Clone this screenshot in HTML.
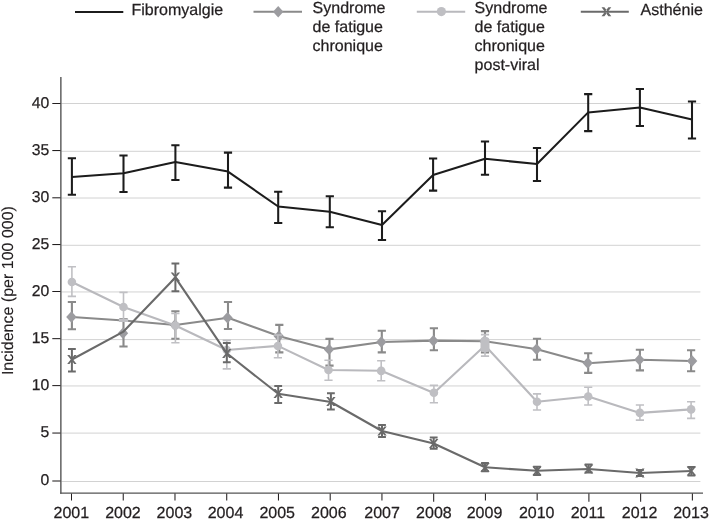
<!DOCTYPE html>
<html lang="fr">
<head>
<meta charset="utf-8">
<title>Incidence (per 100 000)</title>
<style>
html,body{margin:0;padding:0;background:#fff;}
body{width:710px;height:520px;overflow:hidden;}
svg{display:block;}
text{font-family:"Liberation Sans",sans-serif;fill:#231f20;stroke:#231f20;stroke-width:0.25px;text-rendering:geometricPrecision;}
.t{font-size:15.75px;}
.yl{font-size:16px;}
.ya{font-size:16px;stroke-width:0.1px;}
.l{font-size:16px;}
</style>
</head>
<body>
<svg width="710" height="520" viewBox="0 0 710 520">
<rect width="710" height="520" fill="#fff"/>
<g stroke="#d2d2d2" stroke-width="1" fill="none">
<path d="M61.4 481.5H700.4"/>
<path d="M61.4 433.1H700.4"/>
<path d="M61.4 385.95H700.4"/>
<path d="M61.4 339.6H700.4"/>
<path d="M61.4 291.95H700.4"/>
<path d="M61.4 245.3H700.4"/>
<path d="M61.4 198.0H700.4"/>
<path d="M61.4 151.3H700.4"/>
<path d="M61.4 103.5H700.4"/>
</g>
<g stroke="#555555" stroke-width="1.4" fill="none">
<path d="M60.87 77V493.85"/>
<path d="M60.17 493.15H703"/>
</g>
<g stroke="#231f20" stroke-width="1.05" fill="none">
<path d="M52.3 481.0H60.5"/>
<path d="M52.3 433.05H60.5"/>
<path d="M52.3 385.6H60.5"/>
<path d="M52.3 338.65H60.5"/>
<path d="M52.3 291.5H60.5"/>
<path d="M52.3 244.55H60.5"/>
<path d="M52.3 197.8H60.5"/>
<path d="M52.3 150.55H60.5"/>
<path d="M52.3 103.5H60.5"/>
<path d="M71.50 493.6V500.5"/>
<path d="M123.24 493.6V500.5"/>
<path d="M174.98 493.6V500.5"/>
<path d="M226.72 493.6V500.5"/>
<path d="M278.46 493.6V500.5"/>
<path d="M330.20 493.6V500.5"/>
<path d="M381.94 493.6V500.5"/>
<path d="M433.68 493.6V501.8"/>
<path d="M485.42 493.6V500.5"/>
<path d="M537.16 493.6V500.5"/>
<path d="M588.90 493.6V501.8"/>
<path d="M640.64 493.6V501.8"/>
<path d="M692.38 493.6V500.5"/>
</g>
<g class="t" text-anchor="end">
<text x="49.3" y="485.20">0</text>
<text x="49.3" y="437.25">5</text>
<text x="49.3" y="389.80">10</text>
<text x="49.3" y="342.85">15</text>
<text x="49.3" y="295.70">20</text>
<text x="49.3" y="248.75">25</text>
<text x="49.3" y="202.00">30</text>
<text x="49.3" y="154.75">35</text>
<text x="49.3" y="107.70">40</text>
</g>
<g class="yl" text-anchor="middle">
<text x="71.35" y="517.5">2001</text>
<text x="122.95" y="517.5">2002</text>
<text x="174.40" y="517.5">2003</text>
<text x="225.50" y="517.5">2004</text>
<text x="277.20" y="517.5">2005</text>
<text x="328.80" y="517.5">2006</text>
<text x="382.10" y="517.5">2007</text>
<text x="433.90" y="517.5">2008</text>
<text x="484.50" y="517.5">2009</text>
<text x="536.70" y="517.5">2010</text>
<text x="587.90" y="517.5">2011</text>
<text x="639.60" y="517.5">2012</text>
<text x="691.00" y="517.5">2013</text>
</g>
<text class="ya" text-anchor="middle" transform="translate(13.1 290.6) rotate(-90)">Incidence (per 100 000)</text>
<polyline points="71.9,177 123.5,173.2 175.4,161.9 228.0,171.6 278.2,206.5 329.8,211.8 382.0,225 433.1,175 485.0,158.8 537.0,164 588.2,112.4 639.9,107.4 692.0,119.6" fill="none" stroke="#1c1c1c" stroke-width="2.05" stroke-linejoin="round"/>
<path d="M71.9 158.2V194.7M67.80 158.2H76.00M67.80 194.7H76.00" fill="none" stroke="#1c1c1c" stroke-width="2.05"/>
<path d="M123.5 155.4V192M119.40 155.4H127.60M119.40 192H127.60" fill="none" stroke="#1c1c1c" stroke-width="2.05"/>
<path d="M175.4 145.2V180M171.30 145.2H179.50M171.30 180H179.50" fill="none" stroke="#1c1c1c" stroke-width="2.05"/>
<path d="M228.0 152.6V187.6M223.90 152.6H232.10M223.90 187.6H232.10" fill="none" stroke="#1c1c1c" stroke-width="2.05"/>
<path d="M278.2 191.8V223M274.10 191.8H282.30M274.10 223H282.30" fill="none" stroke="#1c1c1c" stroke-width="2.05"/>
<path d="M329.8 196.3V227.3M325.70 196.3H333.90M325.70 227.3H333.90" fill="none" stroke="#1c1c1c" stroke-width="2.05"/>
<path d="M382.0 211.2V240M377.90 211.2H386.10M377.90 240H386.10" fill="none" stroke="#1c1c1c" stroke-width="2.05"/>
<path d="M433.1 158.5V190.6M429.00 158.5H437.20M429.00 190.6H437.20" fill="none" stroke="#1c1c1c" stroke-width="2.05"/>
<path d="M485.0 141.5V174.8M480.90 141.5H489.10M480.90 174.8H489.10" fill="none" stroke="#1c1c1c" stroke-width="2.05"/>
<path d="M537.0 148V181M532.90 148H541.10M532.90 181H541.10" fill="none" stroke="#1c1c1c" stroke-width="2.05"/>
<path d="M588.2 94.1V131.1M584.10 94.1H592.30M584.10 131.1H592.30" fill="none" stroke="#1c1c1c" stroke-width="2.05"/>
<path d="M639.9 89V126M635.80 89H644.00M635.80 126H644.00" fill="none" stroke="#1c1c1c" stroke-width="2.05"/>
<path d="M692.0 101.4V138.4M687.90 101.4H696.10M687.90 138.4H696.10" fill="none" stroke="#1c1c1c" stroke-width="2.05"/>
<polyline points="71.9,317 123.5,320.5 175.4,325 228.0,317.8 279.3,336.3 329.5,349.4 381.8,342 433.9,340.6 485.0,341.2 537.0,349.2 588.2,363.3 639.9,359.8 691.1,361" fill="none" stroke="#8a8a8a" stroke-width="2.1" stroke-linejoin="round"/>
<path d="M71.9 302V329.3M67.80 302H76.00M67.80 329.3H76.00" fill="none" stroke="#8a8a8a" stroke-width="2.1"/>
<path d="M123.5 319V346.5M119.40 319H127.60M119.40 346.5H127.60" fill="none" stroke="#8a8a8a" stroke-width="2.1"/>
<path d="M175.4 311.3V338.7M171.30 311.3H179.50M171.30 338.7H179.50" fill="none" stroke="#8a8a8a" stroke-width="2.1"/>
<path d="M228.0 302V329M223.90 302H232.10M223.90 329H232.10" fill="none" stroke="#8a8a8a" stroke-width="2.1"/>
<path d="M279.3 324.9V352.4M275.20 324.9H283.40M275.20 352.4H283.40" fill="none" stroke="#8a8a8a" stroke-width="2.1"/>
<path d="M329.5 338.85V365.6M325.40 338.85H333.60M325.40 365.6H333.60" fill="none" stroke="#8a8a8a" stroke-width="2.1"/>
<path d="M381.8 330.8V352.4M377.70 330.8H385.90M377.70 352.4H385.90" fill="none" stroke="#8a8a8a" stroke-width="2.1"/>
<path d="M433.9 328.3V350.3M429.80 328.3H438.00M429.80 350.3H438.00" fill="none" stroke="#8a8a8a" stroke-width="2.1"/>
<path d="M485.0 331.1V352.4M480.90 331.1H489.10M480.90 352.4H489.10" fill="none" stroke="#8a8a8a" stroke-width="2.1"/>
<path d="M537.0 338.7V359.8M532.90 338.7H541.10M532.90 359.8H541.10" fill="none" stroke="#8a8a8a" stroke-width="2.1"/>
<path d="M588.2 353.3V372.9M584.10 353.3H592.30M584.10 372.9H592.30" fill="none" stroke="#8a8a8a" stroke-width="2.1"/>
<path d="M639.9 349.8V370.4M635.80 349.8H644.00M635.80 370.4H644.00" fill="none" stroke="#8a8a8a" stroke-width="2.1"/>
<path d="M691.1 350.2V371.3M687.00 350.2H695.20M687.00 371.3H695.20" fill="none" stroke="#8a8a8a" stroke-width="2.1"/>
<path d="M71.4 311.30L76.60 317L71.4 322.70L66.20 317Z" fill="#9c9ca0"/>
<path d="M123.0 327.50L128.20 333.2L123.0 338.90L117.80 333.2Z" fill="#9c9ca0"/>
<path d="M174.9 319.30L180.10 325L174.9 330.70L169.70 325Z" fill="#9c9ca0"/>
<path d="M227.5 312.10L232.70 317.8L227.5 323.50L222.30 317.8Z" fill="#9c9ca0"/>
<path d="M278.8 330.60L284.00 336.3L278.8 342.00L273.60 336.3Z" fill="#9c9ca0"/>
<path d="M329.0 343.70L334.20 349.4L329.0 355.10L323.80 349.4Z" fill="#9c9ca0"/>
<path d="M381.3 336.30L386.50 342L381.3 347.70L376.10 342Z" fill="#9c9ca0"/>
<path d="M433.4 335.10L438.60 340.8L433.4 346.50L428.20 340.8Z" fill="#9c9ca0"/>
<path d="M484.5 335.50L489.70 341.2L484.5 346.90L479.30 341.2Z" fill="#9c9ca0"/>
<path d="M536.5 343.50L541.70 349.2L536.5 354.90L531.30 349.2Z" fill="#9c9ca0"/>
<path d="M587.7 357.30L592.90 363.0L587.7 368.70L582.50 363.0Z" fill="#9c9ca0"/>
<path d="M639.4 354.10L644.60 359.8L639.4 365.50L634.20 359.8Z" fill="#9c9ca0"/>
<path d="M692.1 355.30L697.30 361L692.1 366.70L686.90 361Z" fill="#9c9ca0"/>
<polyline points="71.9,282 123.5,307 175.4,325.5 226.8,350 277.9,345.9 328.5,370 381.2,370.8 433.9,393.0 485.0,345.5 537.0,401.7 588.2,396.5 639.9,412.9 691.1,409.4" fill="none" stroke="#b9b9bd" stroke-width="2.1" stroke-linejoin="round"/>
<path d="M71.9 266.8V296.4M67.80 266.8H76.00M67.80 296.4H76.00" fill="none" stroke="#c0c0c4" stroke-width="1.6"/>
<path d="M123.5 292.4V320.3M119.40 292.4H127.60M119.40 320.3H127.60" fill="none" stroke="#c0c0c4" stroke-width="1.6"/>
<path d="M175.4 313.5V342.8M171.30 313.5H179.50M171.30 342.8H179.50" fill="none" stroke="#c0c0c4" stroke-width="1.6"/>
<path d="M226.8 340.4V368.9M222.70 340.4H230.90M222.70 368.9H230.90" fill="none" stroke="#c0c0c4" stroke-width="1.6"/>
<path d="M277.9 335V357.7M273.80 335H282.00M273.80 357.7H282.00" fill="none" stroke="#c0c0c4" stroke-width="1.6"/>
<path d="M328.5 360.2V380.2M324.40 360.2H332.60M324.40 380.2H332.60" fill="none" stroke="#c0c0c4" stroke-width="1.6"/>
<path d="M381.2 360.75V380.7M377.10 360.75H385.30M377.10 380.7H385.30" fill="none" stroke="#c0c0c4" stroke-width="1.6"/>
<path d="M433.9 385.4V402.7M429.80 385.4H438.00M429.80 402.7H438.00" fill="none" stroke="#c0c0c4" stroke-width="1.6"/>
<path d="M485.0 334.6V356.1M480.90 334.6H489.10M480.90 356.1H489.10" fill="none" stroke="#c0c0c4" stroke-width="1.6"/>
<path d="M537.0 393.9V410.0M532.90 393.9H541.10M532.90 410.0H541.10" fill="none" stroke="#c0c0c4" stroke-width="1.6"/>
<path d="M588.2 387.3V405M584.10 387.3H592.30M584.10 405H592.30" fill="none" stroke="#c0c0c4" stroke-width="1.6"/>
<path d="M639.9 405V420.1M635.80 405H644.00M635.80 420.1H644.00" fill="none" stroke="#c0c0c4" stroke-width="1.6"/>
<path d="M691.1 401.7V418.4M687.00 401.7H695.20M687.00 418.4H695.20" fill="none" stroke="#c0c0c4" stroke-width="1.6"/>
<rect x="118.9" y="318.6" width="9.2" height="3.4" fill="#c0c0c4"/>
<circle cx="71.9" cy="282" r="4.3" fill="#bfbfc3"/>
<circle cx="123.5" cy="307" r="4.3" fill="#bfbfc3"/>
<circle cx="175.4" cy="325.5" r="4.3" fill="#bfbfc3"/>
<circle cx="226.8" cy="350" r="4.3" fill="#bfbfc3"/>
<circle cx="277.9" cy="346.0" r="4.3" fill="#bfbfc3"/>
<circle cx="328.5" cy="370" r="4.3" fill="#bfbfc3"/>
<circle cx="381.2" cy="370.9" r="4.3" fill="#bfbfc3"/>
<circle cx="433.9" cy="392.8" r="4.3" fill="#bfbfc3"/>
<rect x="480.50" y="337" width="9" height="15.3" rx="3.6" fill="#bfbfc3"/>
<circle cx="537.0" cy="401.7" r="4.3" fill="#bfbfc3"/>
<circle cx="588.2" cy="396.5" r="4.3" fill="#bfbfc3"/>
<circle cx="639.9" cy="412.9" r="4.3" fill="#bfbfc3"/>
<circle cx="691.1" cy="409.4" r="4.3" fill="#bfbfc3"/>
<polyline points="71.9,359.5 123.5,331.6 175.4,277.6 226.8,353.3 278.2,393.8 330.9,402.0 382.0,431 433.7,443.5 485.0,467.3 537.0,470.8 588.6,469 639.9,473 691.4,471" fill="none" stroke="#6a6a6a" stroke-width="2.1" stroke-linejoin="round"/>
<path d="M71.9 349V371.5M68.00 349H75.80M68.00 371.5H75.80" fill="none" stroke="#6a6a6a" stroke-width="2.0"/>
<path d="M175.4 263.5V291.2M171.50 263.5H179.30M171.50 291.2H179.30" fill="none" stroke="#6a6a6a" stroke-width="2.0"/>
<path d="M226.8 343.1V362.3M222.90 343.1H230.70M222.90 362.3H230.70" fill="none" stroke="#6a6a6a" stroke-width="2.0"/>
<path d="M278.2 386V402.9M274.30 386H282.10M274.30 402.9H282.10" fill="none" stroke="#6a6a6a" stroke-width="2.0"/>
<path d="M330.9 393.3V409.6M327.00 393.3H334.80M327.00 409.6H334.80" fill="none" stroke="#6a6a6a" stroke-width="2.0"/>
<path d="M382.0 425V437.1M378.10 425H385.90M378.10 437.1H385.90" fill="none" stroke="#6a6a6a" stroke-width="2.0"/>
<path d="M433.7 437.5V448.7M429.80 437.5H437.60M429.80 448.7H437.60" fill="none" stroke="#6a6a6a" stroke-width="2.0"/>
<path d="M485.0 463V471.2M481.10 463H488.90M481.10 471.2H488.90" fill="none" stroke="#6a6a6a" stroke-width="2.0"/>
<path d="M537.0 466.7V475M533.10 466.7H540.90M533.10 475H540.90" fill="none" stroke="#6a6a6a" stroke-width="2.0"/>
<path d="M588.6 464.6V472.6M584.70 464.6H592.50M584.70 472.6H592.50" fill="none" stroke="#6a6a6a" stroke-width="2.0"/>
<path d="M639.9 470V476M636.00 470H643.80M636.00 476H643.80" fill="none" stroke="#6a6a6a" stroke-width="2.0"/>
<path d="M691.4 467V475.4M687.50 467H695.30M687.50 475.4H695.30" fill="none" stroke="#6a6a6a" stroke-width="2.0"/>
<path d="M67.20 355.10h2.3L76.60 363.90h-2.3ZM76.60 355.10h-2.3L67.20 363.90h2.3Z" fill="#6a6a6a"/>
<path d="M170.70 272.50h2.3L180.10 281.30h-2.3ZM180.10 272.50h-2.3L170.70 281.30h2.3Z" fill="#6a6a6a"/>
<path d="M222.10 349.10h2.3L231.50 357.90h-2.3ZM231.50 349.10h-2.3L222.10 357.90h2.3Z" fill="#6a6a6a"/>
<path d="M273.50 389.10h2.3L282.90 397.90h-2.3ZM282.90 389.10h-2.3L273.50 397.90h2.3Z" fill="#6a6a6a"/>
<path d="M326.20 397.10h2.3L335.60 405.90h-2.3ZM335.60 397.10h-2.3L326.20 405.90h2.3Z" fill="#6a6a6a"/>
<path d="M377.30 426.60h2.3L386.70 435.40h-2.3ZM386.70 426.60h-2.3L377.30 435.40h2.3Z" fill="#6a6a6a"/>
<path d="M429.00 439.10h2.3L438.40 447.90h-2.3ZM438.40 439.10h-2.3L429.00 447.90h2.3Z" fill="#6a6a6a"/>
<path d="M480.30 462.90h2.3L489.70 471.70h-2.3ZM489.70 462.90h-2.3L480.30 471.70h2.3Z" fill="#6a6a6a"/>
<path d="M532.30 466.40h2.3L541.70 475.20h-2.3ZM541.70 466.40h-2.3L532.30 475.20h2.3Z" fill="#6a6a6a"/>
<path d="M583.90 464.60h2.3L593.30 473.40h-2.3ZM593.30 464.60h-2.3L583.90 473.40h2.3Z" fill="#6a6a6a"/>
<path d="M635.20 468.60h2.3L644.60 477.40h-2.3ZM644.60 468.60h-2.3L635.20 477.40h2.3Z" fill="#6a6a6a"/>
<path d="M686.70 466.60h2.3L696.10 475.40h-2.3ZM696.10 466.60h-2.3L686.70 475.40h2.3Z" fill="#6a6a6a"/>
<path d="M75 11.9H123.3" stroke="#1c1c1c" stroke-width="2" fill="none"/>
<text class="l" x="131.5" y="15.3">Fibromyalgie</text>
<path d="M253.5 11.7H302" stroke="#8a8a8a" stroke-width="2" fill="none"/>
<path d="M278.2 6.00L283.40 11.7L278.2 17.40L273.00 11.7Z" fill="#9c9ca0"/>
<text class="l" x="312.6" y="12.8">Syndrome</text>
<text class="l" x="312.6" y="31.6">de fatigue</text>
<text class="l" x="312.6" y="50.5">chronique</text>
<path d="M416.8 11.8H465.2" stroke="#b9b9bd" stroke-width="2" fill="none"/>
<circle cx="441.4" cy="11.6" r="4.6" fill="#bfbfc3"/>
<text class="l" x="474.6" y="12.8">Syndrome</text>
<text class="l" x="474.6" y="31.6">de fatigue</text>
<text class="l" x="474.6" y="50.5">chronique</text>
<text class="l" x="474.6" y="69.6">post-viral</text>
<path d="M580.8 11.75H628.8" stroke="#6a6a6a" stroke-width="2" fill="none"/>
<path d="M601.50 7.30h2.9L611.30 16.30h-2.9ZM611.30 7.30h-2.9L601.50 16.30h2.9Z" fill="#6a6a6a"/>
<text class="l" x="640.6" y="15.2">Asthénie</text>
</svg>
</body>
</html>
